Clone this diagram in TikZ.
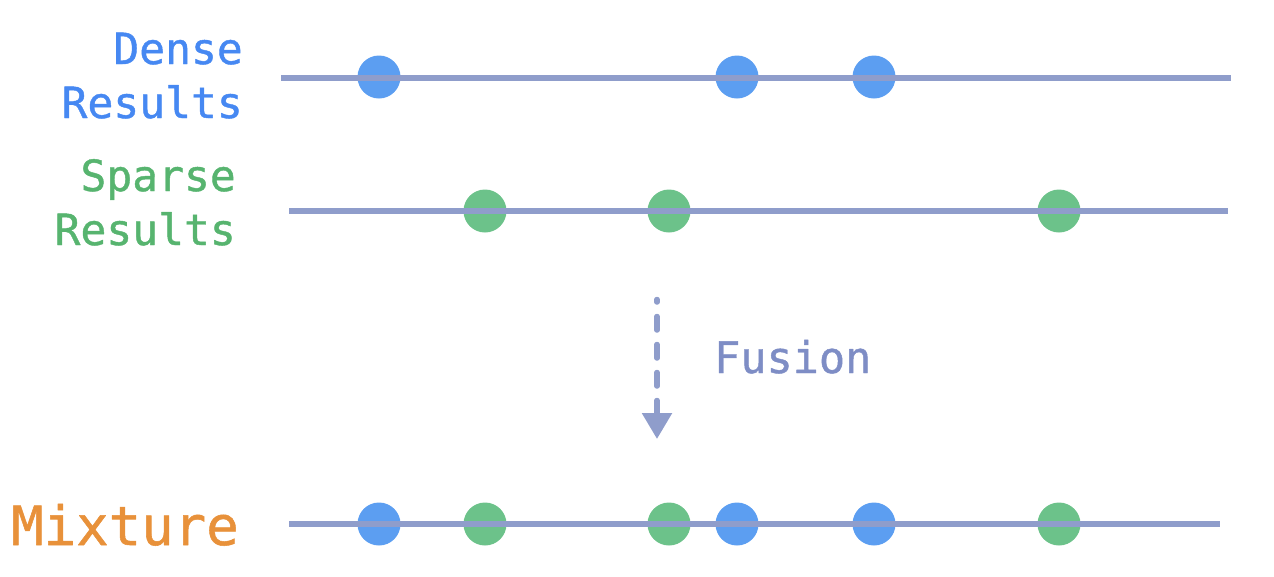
\documentclass[tikz,border=0pt]{standalone}
\usepackage{fontspec}
\setmonofont[FakeBold=1]{DejaVu Sans Mono}
\usetikzlibrary{arrows.meta}
\definecolor{densetext}{HTML}{4688F2}
\definecolor{denseball}{HTML}{5C9EF1}
\definecolor{sparsetext}{HTML}{57B46F}
\definecolor{sparseball}{HTML}{6CC28A}
\definecolor{mixtext}{HTML}{E8913A}
\definecolor{trackc}{HTML}{8F9DCB}
\definecolor{fusetext}{HTML}{7E8DC5}

\begin{document}
\begin{tikzpicture}[x=1pt, y=-1pt, line join=round,
  track/.style={draw=trackc, line width=5.5pt, line cap=butt},
  hit/.style={circle, inner sep=0pt, minimum size=43pt},
  densehit/.style={hit, fill=denseball},
  sparsehit/.style={hit, fill=sparseball},
  lbl/.style={font=\ttfamily\fontsize{43}{54}\selectfont, align=right, inner sep=0pt, anchor=base east}]
\useasboundingbox (0,0) rectangle (1274,576);

% dense row
\coordinate (d0) at (281,78);
\coordinate (d1) at (1231,78);
\node[densehit] (da) at (379,77) {};
\node[densehit] (db) at (737,77) {};
\node[densehit] (dc) at (874,77) {};
\draw[track] (d0)--(d1);
\node[lbl, text=densetext] (dense) at (243,118) {Dense\\Results};

% sparse row
\coordinate (s0) at (289,211);
\coordinate (s1) at (1228,211);
\node[sparsehit] (sa) at (485,211) {};
\node[sparsehit] (sb) at (669,211) {};
\node[sparsehit] (sc) at (1059,211) {};
\draw[track] (s0)--(s1);
\node[lbl, text=sparsetext] (sparse) at (236,245) {Sparse\\Results};

% fusion arrow
\coordinate (f0) at (657,299.5);
\coordinate (f1) at (657,439);
\draw[draw=trackc, line width=5.5pt, line cap=round, dash pattern=on 13.5pt off 14.5pt, dash phase=11pt,
  -{Triangle[width=29pt, length=26pt, fill=trackc]}] (f0)--(f1);
\node[font=\ttfamily\fontsize{43.5}{54}\selectfont, text=fusetext, inner sep=0pt, anchor=base west] (fusion) at (714,373) {Fusion};

% mixture row
\coordinate (m0) at (289,524);
\coordinate (m1) at (1220,524);
\node[densehit] (ma) at (379,524) {};
\node[sparsehit] (mb) at (485,524) {};
\node[sparsehit] (mc) at (669,524) {};
\node[densehit] (md) at (737,524) {};
\node[densehit] (me) at (874,524) {};
\node[sparsehit] (mf) at (1059,524) {};
\draw[track] (m0)--(m1);
\node[font=\ttfamily\fontsize{54}{60}\selectfont, text=mixtext, inner sep=0pt, anchor=base west] (mix) at (11,545) {Mixture};
\end{tikzpicture}
\end{document}
